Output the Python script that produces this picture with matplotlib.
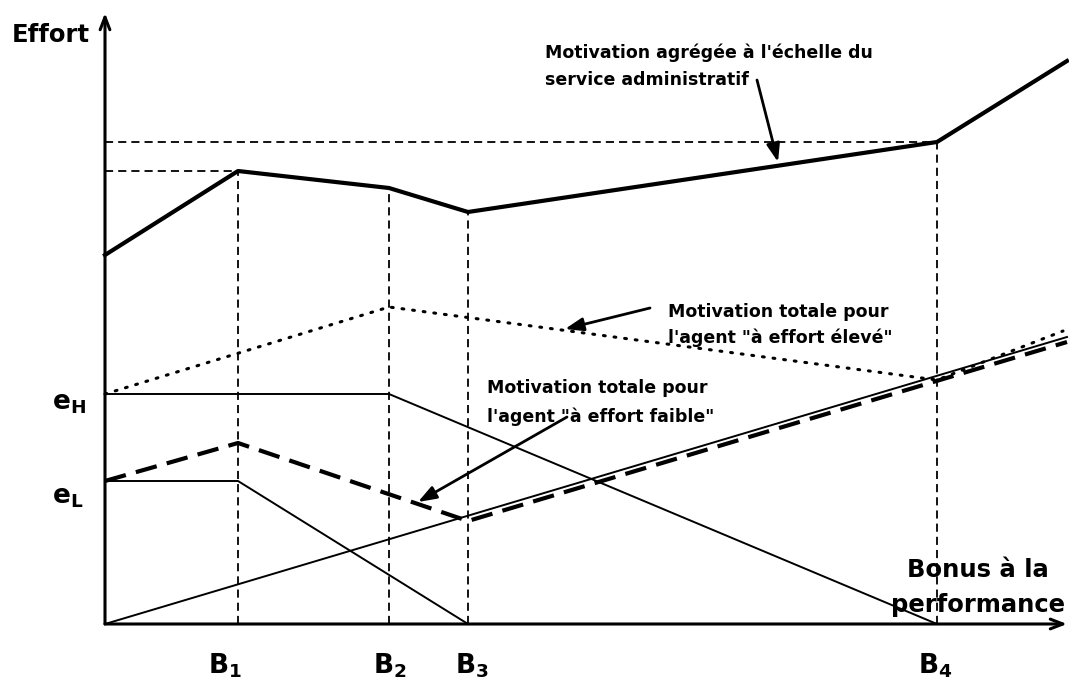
import matplotlib.pyplot as plt

plt.rcParams['font.family'] = 'DejaVu Sans'
plt.rcParams['font.weight'] = 'bold'
plt.rcParams['mathtext.fontset'] = 'dejavusans'

# bonus thresholds on the x axis
B = [133, 284, 363, 832]
B_labels = [r'$\mathbf{B_1}$', r'$\mathbf{B_2}$', r'$\mathbf{B_3}$', r'$\mathbf{B_4}$']

# intrinsic effort levels
e_H = 230
e_L = 143

# aggregated motivation of the administrative service
agg_x = [0, 133, 284, 363, 832, 962]
agg_y = [369, 453, 436, 412, 482, 563]

# intrinsic motivation of each agent type
high_x = [0, 284, 832]
high_y = [e_H, e_H, 0]
low_x = [0, 133, 363]
low_y = [e_L, e_L, 0]

# extrinsic motivation from the bonus
bonus_x = [0, 962]
bonus_y = [0, 287]

# total motivation, high-effort agent (dotted) and low-effort agent (dashed)
tot_high_x = [0, 284, 832, 958]
tot_high_y = [e_H, 317, 244, 293]
tot_low_x = [0, 133, 363, 962]
tot_low_y = [e_L, 181, 103, 282]

fig = plt.figure(figsize=(10.69, 6.86), dpi=100)
ax = fig.add_axes([0, 0, 1, 1])
ax.set_xlim(-105, 964)
ax.set_ylim(-62, 624)
ax.axis('off')

# axes with arrow heads
axis_arrow = dict(arrowstyle='->,head_length=0.9,head_width=0.35', lw=2.2,
                  color='black', shrinkA=0, shrinkB=0)
ax.annotate('', xy=(0, 611), xytext=(0, 0), arrowprops=axis_arrow)
ax.annotate('', xy=(962, 0), xytext=(0, 0), arrowprops=axis_arrow)

# guide lines
guide = dict(color='black', lw=1.3, ls=(0, (4.5, 2.8)))
ax.plot([0, B[0]], [agg_y[1], agg_y[1]], **guide)
ax.plot([0, B[3]], [agg_y[4], agg_y[4]], **guide)
for b, top in zip(B, [agg_y[1], agg_y[2], agg_y[3], agg_y[4]]):
    ax.plot([b, b], [0, top], **guide)

ax.plot(high_x, high_y, color='black', lw=1.4)
ax.plot(low_x, low_y, color='black', lw=1.4)
ax.plot(bonus_x, bonus_y, color='black', lw=1.4)

ax.plot(tot_high_x, tot_high_y, color='black', lw=2.2, ls=(0, (0.6, 2.9)),
        dash_capstyle='round')
ax.plot(tot_low_x, tot_low_y, color='black', lw=3, ls=(0, (5.2, 2.5)))
ax.plot(agg_x, agg_y, color='black', lw=3)

# axis labels
ax.text(-93, 582, 'Effort', fontsize=17.5, va='baseline')
ax.text(-53, 214, r'$\mathbf{e_H}$', fontsize=19, va='baseline')
ax.text(-53, 121, r'$\mathbf{e_L}$', fontsize=19, va='baseline')
for x, lab in zip([103, 268, 350, 813], B_labels):
    ax.text(x, -49, lab, fontsize=19, va='baseline')
ax.text(873, 47, 'Bonus à la', fontsize=17.5, ha='center', va='baseline')
ax.text(873, 12, 'performance', fontsize=17.5, ha='center', va='baseline')

# annotations
note_arrow = dict(arrowstyle='-|>,head_length=1.1,head_width=0.4', lw=2,
                  color='black', shrinkA=0, shrinkB=0)
ax.text(440, 566, "Motivation agrégée à l'échelle du", fontsize=12.5, va='baseline')
ax.text(440, 539, 'service administratif', fontsize=12.5, va='baseline')
ax.annotate('', xy=(673, 462), xytext=(652, 544), arrowprops=note_arrow)

ax.text(563, 307, 'Motivation totale pour', fontsize=12.5, va='baseline')
ax.text(563, 281, 'l\'agent "à effort élevé"', fontsize=12.5, va='baseline')
ax.annotate('', xy=(460, 295), xytext=(545, 316), arrowprops=note_arrow)

ax.text(382, 231, 'Motivation totale pour', fontsize=12.5, va='baseline')
ax.text(382, 202, 'l\'agent "à effort faible"', fontsize=12.5, va='baseline')
ax.annotate('', xy=(313, 122), xytext=(462, 207), arrowprops=note_arrow)

fig.savefig('out.png', dpi=100)
